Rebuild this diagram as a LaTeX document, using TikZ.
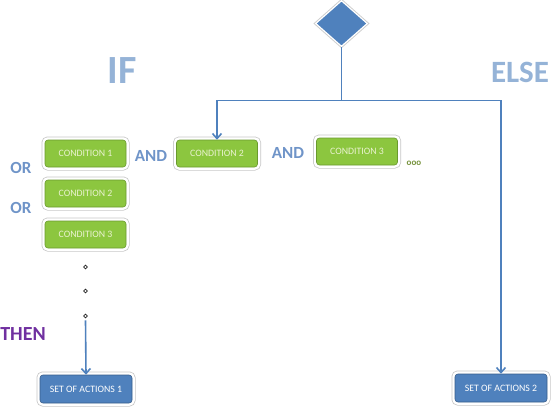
\documentclass[tikz,border=0pt]{standalone}
\usepackage{fontspec}
\setmainfont{Carlito}
\usetikzlibrary{shapes.geometric,arrows.meta}
\definecolor{lineblue}{HTML}{4F81BD}
\definecolor{boxblue}{HTML}{4F81BD}
\definecolor{boxblueedge}{HTML}{385D8A}
\definecolor{condgreen}{HTML}{8CC63F}
\definecolor{condedge}{HTML}{6A9A2E}
\definecolor{condtext}{HTML}{EAF2D0}
\definecolor{bigblue}{HTML}{95B3D7}
\definecolor{joinblue}{HTML}{6F94C8}
\definecolor{thenpurple}{HTML}{7030A0}
\definecolor{olive}{HTML}{76923C}
\tikzset{
  framed/.style={rounded corners=3pt,
    preaction={draw=black!22, line width=7pt},
    preaction={draw=white, line width=5.5pt}},
  cond/.style={framed, fill=condgreen, draw=condedge, line width=0.6pt,
    minimum width=81pt, minimum height=27pt, inner sep=0pt,
    text=condtext, font=\fontsize{9.8}{10}\selectfont},
  action/.style={framed, fill=boxblue, draw=boxblueedge, line width=0.6pt,
    minimum width=92pt, minimum height=28pt, inner sep=0pt,
    text=white, font=\fontsize{9.8}{10}\selectfont},
  bigword/.style={text=bigblue, inner sep=0pt},
  joinword/.style={text=joinblue, font=\fontsize{17}{18}\selectfont\bfseries, inner sep=0pt},
  conn/.style={draw=lineblue, line width=1.6pt},
  arr/.style={conn, -{Straight Barb[length=5pt,width=9pt,line width=1.6pt]}},
  dotmark/.style={circle, draw=black!85, line width=0.8pt, fill=white, minimum size=3.8pt, inner sep=0pt}
}
\begin{document}
\begin{tikzpicture}[x=1pt,y=-1pt]
\useasboundingbox (0,0) rectangle (552,408);
% decision diamond
\node[diamond, fill=boxblue, draw=white, line width=1.2pt,
  minimum width=52pt, minimum height=46pt, inner sep=0pt,
  preaction={draw=black!20, line width=3pt}] (dec) at (341.5,23.5) {};
\coordinate (junc) at (341.5,100.5);
% big words
\node[bigword, font=\fontsize{40}{40}\selectfont\bfseries] (if) at (122,71) {IF};
\node[bigword, font=\fontsize{31}{31}\selectfont\bfseries] (else) at (520,72) {ELSE};
% conditions
\node[cond] (c1) at (85.5,153.5) {CONDITION 1};
\node[cond] (c2h) at (217,153.5) {CONDITION 2};
\node[cond] (c3h) at (357,151.5) {CONDITION 3};
\node[cond] (c2v) at (85.5,193.5) {CONDITION 2};
\node[cond] (c3v) at (85.5,234.5) {CONDITION 3};
% join words
\node[joinword] (and1) at (151,156) {AND};
\node[joinword] (and2) at (288,153) {AND};
\node[joinword] (or1) at (21,168) {OR};
\node[joinword] (or2) at (21,208) {OR};
\node[text=olive, font=\fontsize{9}{9}\selectfont\bfseries, inner sep=0pt] (more) at (414,163) {ooo};
% dots
\node[dotmark] (d1) at (85.5,267) {};
\node[dotmark] (d2) at (85.5,291) {};
\node[dotmark] (d3) at (85.5,316) {};
% then
\node[text=thenpurple, font=\fontsize{20}{20}\selectfont\bfseries, inner sep=0pt] (then) at (23,334) {THEN};
% actions
\node[action] (sa1) at (86,389) {SET OF ACTIONS 1};
\node[action] (sa2) at (501,388) {SET OF ACTIONS 2};
% connectors
\draw[conn] (dec.south) -- (junc);
\draw[arr] (junc) -| (c2h.north);
\draw[arr] (junc) -| (sa2.north);
\draw[arr] (d3.south) ++(0,2) -- (sa1.north);
\end{tikzpicture}
\end{document}
